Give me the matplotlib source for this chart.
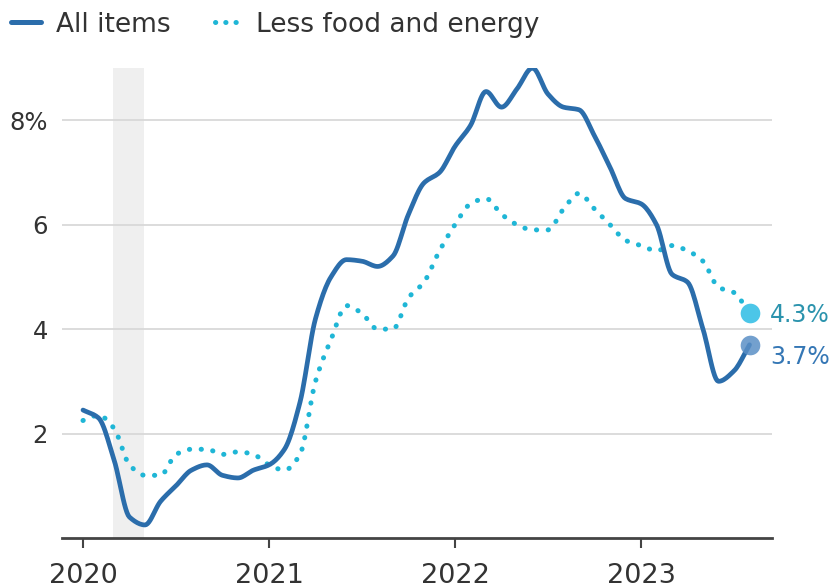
import numpy as np
import matplotlib
matplotlib.use("Agg")
import matplotlib.pyplot as plt
from matplotlib.lines import Line2D

plt.rcParams['font.family'] = ['DejaVu Sans']

# Monthly, Jan 2020 .. Aug 2023 (year-over-year % change)
all_items = [2.45, 2.3, 1.5, 0.4, 0.25, 0.7, 1.0, 1.3, 1.4, 1.2, 1.15, 1.3,
             1.4, 1.7, 2.6, 4.2, 5.0, 5.33, 5.3, 5.2, 5.4, 6.2, 6.8, 7.0,
             7.5, 7.9, 8.55, 8.25, 8.6, 9.0, 8.5, 8.25, 8.2, 7.7, 7.1, 6.5,
             6.4, 6.0, 5.05, 4.9, 4.0, 3.0, 3.2, 3.7]
core = [2.25, 2.35, 2.1, 1.4, 1.2, 1.2, 1.6, 1.7, 1.7, 1.6, 1.65, 1.6,
        1.4, 1.3, 1.6, 3.0, 3.8, 4.45, 4.3, 4.0, 4.0, 4.6, 4.9, 5.5,
        6.0, 6.4, 6.5, 6.2, 6.0, 5.9, 5.9, 6.3, 6.6, 6.3, 6.0, 5.7,
        5.6, 5.5, 5.6, 5.5, 5.3, 4.8, 4.7, 4.3]
year_labels = ["2020", "2021", "2022", "2023"]
y_ticks = [2, 4, 6, 8]
y_tick_labels = ["2", "4", "6", "8%"]
recession = (2, 4)  # shaded span, month index (Mar 1 .. May 1, 2020)
series_names = ["All items", "Less food and energy"]

c_all = "#2b6dab"
c_core = "#1fb6d6"


def monotone(x, y, n=12):
    x = np.asarray(x, float); y = np.asarray(y, float)
    h = np.diff(x); d = np.diff(y) / h
    m = np.zeros_like(y)
    m[0] = d[0]; m[-1] = d[-1]
    for i in range(1, len(y) - 1):
        if d[i - 1] * d[i] <= 0:
            m[i] = 0
        else:
            w1 = 2 * h[i] + h[i - 1]; w2 = h[i] + 2 * h[i - 1]
            m[i] = (w1 + w2) / (w1 / d[i - 1] + w2 / d[i])
    xs, ys = [], []
    for i in range(len(x) - 1):
        t = np.linspace(0, 1, n, endpoint=False)
        h00 = 2 * t**3 - 3 * t**2 + 1; h10 = t**3 - 2 * t**2 + t
        h01 = -2 * t**3 + 3 * t**2; h11 = t**3 - t**2
        xs.append(x[i] + t * h[i])
        ys.append(h00 * y[i] + h10 * h[i] * m[i] + h01 * y[i + 1] + h11 * h[i] * m[i + 1])
    xs.append([x[-1]]); ys.append([y[-1]])
    return np.concatenate(xs), np.concatenate(ys)


fig = plt.figure(figsize=(8.36, 5.88), dpi=100)
W, H = 836, 588
ax = fig.add_axes([62 / W, 1 - 538 / H, (772 - 62) / W, (538 - 68) / H])

months = np.arange(len(all_items))
ax.set_xlim(-21 / 15.5, (772 - 83) / 15.5)
ax.set_ylim(0, 9.0)

ax.axvspan(recession[0] - 0.06, recession[1] - 0.06, color="#efefef", zorder=0, lw=0)
for yt in y_ticks:
    ax.axhline(yt, color="#d6d6d6", lw=1.2, zorder=1)

xs, ys = monotone(months, core)
ax.plot(xs, ys, color=c_core, lw=3.6, linestyle=(0, (0.05, 2.3)),
        dash_capstyle="round", zorder=3)
xs, ys = monotone(months, all_items)
ax.plot(xs, ys, color=c_all, lw=3.4, solid_capstyle="round", zorder=4)

ax.scatter([months[-1]], [core[-1]], s=200, color="#4cc6e8", zorder=5, lw=0)
ax.scatter([months[-1]], [all_items[-1]], s=200, color="#5a8fc6", alpha=0.85, zorder=5, lw=0)
ax.annotate(f"{core[-1]:.1f}%", (months[-1], core[-1]), xytext=(15, -1),
            textcoords="offset points", color="#2b93ad", fontsize=17,
            va="center", ha="left", annotation_clip=False)
ax.annotate(f"{all_items[-1]:.1f}%", (months[-1], all_items[-1]), xytext=(15, -9),
            textcoords="offset points", color="#3577b5", fontsize=17,
            va="center", ha="left", annotation_clip=False)

for s in ["top", "right", "left"]:
    ax.spines[s].set_visible(False)
ax.spines["bottom"].set_color("#444444")
ax.spines["bottom"].set_linewidth(2)
ax.set_xticks([0, 12, 24, 36])
ax.set_xticklabels(year_labels)
ax.set_yticks(y_ticks)
ax.set_yticklabels(y_tick_labels)
ax.tick_params(axis="x", length=7, width=1.5, color="#444444", pad=11,
               labelsize=19.5, labelcolor="#333333")
ax.tick_params(axis="y", length=0, pad=10, labelsize=17.5, labelcolor="#333333")

# Legend
ly = 1 - 22 / H
fig.add_artist(Line2D([11 / W, 41 / W], [ly] * 2, color=c_all, lw=3.6,
                      solid_capstyle="round"))
fig.text(56 / W, 1 - 32 / H, series_names[0], fontsize=19, color="#333333", va="baseline")
fig.add_artist(Line2D([215 / W, 238 / W], [ly] * 2, color=c_core, lw=3.6,
                      linestyle=(0, (0.05, 2.0)), dash_capstyle="round"))
fig.text(256 / W, 1 - 32 / H, series_names[1], fontsize=19, color="#333333", va="baseline")

fig.savefig("out.png", dpi=100)
